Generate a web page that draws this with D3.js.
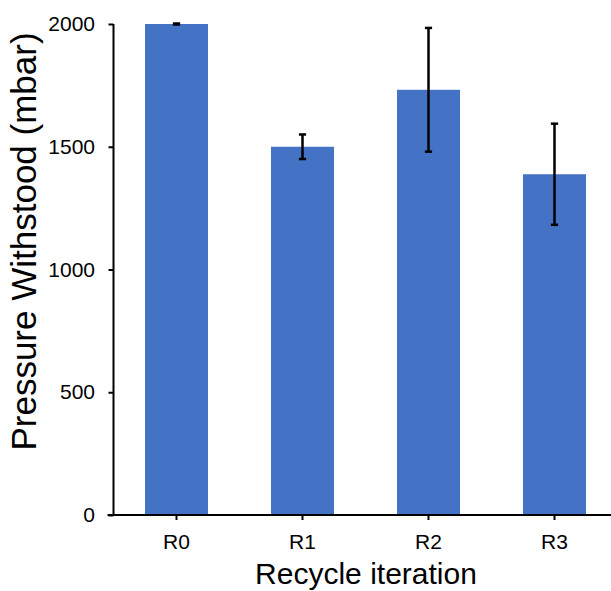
<!DOCTYPE html>
<html>
<head>
<meta charset="utf-8">
<script src="https://cdn.jsdelivr.net/npm/d3@7"></script>
<style>
  html, body { margin: 0; padding: 0; background: #fff; }
  svg { display: block; font-family: Arial, "Liberation Sans", sans-serif; }
</style>
</head>
<body>
<svg id="chart" width="611" height="591"></svg>
<script>
const categories = ["R0", "R1", "R2", "R3"];
const values = [2000, 1500, 1732, 1388];
const errors = [2, 50, 252, 206];
const yTicks = [0, 500, 1000, 1500, 2000];
const xTitle = "Recycle iteration";
const yTitle = "Pressure Withstood (mbar)";

const svg = d3.select("#chart");
const axisX = 113.5, axisY = 515;

const x = d3.scaleBand().domain(categories).range([axisX, 617.5])
  .paddingInner(0.5).paddingOuter(0.25);
const y = d3.scaleLinear().domain([0, 2000]).range([axisY, 24]);

// bars
svg.append("g").selectAll("rect").data(categories).join("rect")
  .attr("x", d => x(d))
  .attr("y", (d, i) => y(values[i]))
  .attr("width", x.bandwidth())
  .attr("height", (d, i) => axisY - y(values[i]))
  .attr("fill", "#4472C4");

// error bars
const eb = svg.append("g").attr("stroke", "#000").attr("stroke-width", 2.5);
categories.forEach((c, i) => {
  const cx = x(c) + x.bandwidth() / 2;
  const hi = y(values[i] + errors[i]), lo = y(values[i] - errors[i]);
  eb.append("line").attr("x1", cx).attr("x2", cx).attr("y1", hi).attr("y2", lo);
  eb.append("line").attr("x1", cx - 3.6).attr("x2", cx + 3.6).attr("y1", hi).attr("y2", hi);
  eb.append("line").attr("x1", cx - 3.6).attr("x2", cx + 3.6).attr("y1", lo).attr("y2", lo);
});

// y axis
const gy = svg.append("g").attr("transform", `translate(${axisX},0)`)
  .call(d3.axisLeft(y).tickValues(yTicks).tickFormat(d3.format("d"))
    .tickSize(5).tickSizeOuter(0).tickPadding(13.5));
gy.select(".domain").attr("stroke-width", 2).attr("d", `M0,${y(2000)}V${axisY + 1}`);
gy.selectAll(".tick line").attr("stroke-width", 2);
gy.selectAll("text").attr("font-size", 21).attr("fill", "#000")
  .attr("font-family", "Arial, 'Liberation Sans', sans-serif");

// x axis
const gx = svg.append("g").attr("transform", `translate(0,${axisY})`)
  .call(d3.axisBottom(x).tickSize(5).tickSizeOuter(0).tickPadding(14));
gx.select(".domain").attr("stroke-width", 2).attr("d", `M${axisX - 6},0H617.5`);
gx.selectAll(".tick line").attr("stroke-width", 2);
gx.selectAll("text").attr("font-size", 21).attr("fill", "#000")
  .attr("font-family", "Arial, 'Liberation Sans', sans-serif");

// titles
svg.append("text").attr("x", 366).attr("y", 584).attr("text-anchor", "middle")
  .attr("font-size", 30).attr("fill", "#000").text(xTitle);
svg.append("text").attr("transform", "translate(36,241.5) rotate(-90)")
  .attr("text-anchor", "middle").attr("font-size", 35).attr("fill", "#000").text(yTitle);
</script>
</body>
</html>
